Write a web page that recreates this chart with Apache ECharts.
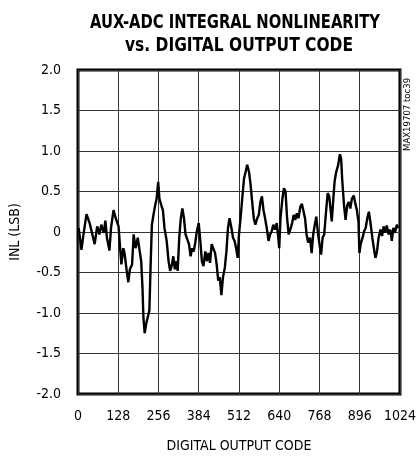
<!DOCTYPE html>
<html>
<head>
<meta charset="utf-8">
<script src="https://cdn.jsdelivr.net/npm/echarts@6/dist/echarts.min.js"></script>
<style>
html,body{margin:0;padding:0;background:#fff;}
#chart{width:419px;height:458px;}
</style>
</head>
<body>
<div id="chart"></div>
<script>
// ---- data ----
const titleLines = ["AUX-ADC INTEGRAL NONLINEARITY", "vs. DIGITAL OUTPUT CODE"];
const xAxisName = "DIGITAL OUTPUT CODE";
const yAxisName = "INL (LSB)";
const sideNote = "MAX19707 toc39";
const xTicks = [0, 128, 256, 384, 512, 640, 768, 896, 1024];
const yTicks = [-2.0, -1.5, -1.0, -0.5, 0, 0.5, 1.0, 1.5, 2.0];
const codes = [2,6,11,16,27,37,48,53,61,68,74,82,87,92,100,105,113,120,129,134,138,144,148,155,160,165,172,177,183,190,196,201,205,208,212,217,222,227,231,235,240,245,250,255,259,265,270,275,282,288,293,299,303,308,313,317,322,327,332,337,342,348,353,358,363,368,373,378,384,389,394,399,405,410,415,420,425,430,436,441,446,451,456,461,467,472,477,482,488,493,498,503,508,512,518,523,528,533,538,544,549,554,559,564,570,575,580,585,590,595,601,606,611,616,621,626,632,637,640,644,650,655,660,665,670,675,681,686,691,696,701,707,712,717,722,727,732,738,743,748,753,758,763,768,773,778,783,788,794,799,804,807,812,816,821,827,833,837,840,846,851,856,861,866,871,877,882,887,892,895,899,905,910,915,920,925,931,936,941,946,951,956,962,967,972,977,982,988,993,998,1003,1008,1014,1018];
const inl = [0.05,0.03,-0.22,-0.07,0.22,0.11,-0.07,-0.15,0.07,-0.03,0.09,-0.01,0.14,-0.07,-0.23,0.05,0.27,0.17,0.07,-0.2,-0.40,-0.2,-0.26,-0.48,-0.62,-0.46,-0.40,-0.03,-0.2,-0.07,-0.23,-0.36,-0.68,-1.05,-1.25,-1.13,-1.11,-0.97,-0.40,0.09,0.21,0.32,0.41,0.62,0.41,0.33,0.27,0.05,-0.11,-0.36,-0.48,-0.40,-0.30,-0.46,-0.36,-0.48,-0.07,0.17,0.29,0.17,-0.03,-0.01,-0.15,-0.30,-0.2,-0.24,-0.13,0.01,0.11,-0.11,-0.36,-0.42,-0.24,-0.36,-0.26,-0.38,-0.15,-0.2,-0.26,-0.40,-0.60,-0.56,-0.78,-0.56,-0.44,-0.24,0.05,0.17,0.05,-0.07,-0.11,-0.2,-0.32,-0.03,0.21,0.45,0.66,0.74,0.83,0.74,0.58,0.37,0.17,0.09,0.17,0.21,0.37,0.44,0.27,0.17,0.03,-0.11,-0.03,0.01,0.09,0.03,0.11,-0.07,-0.2,0.17,0.41,0.54,0.50,0.17,-0.03,0.03,0.11,0.21,0.15,0.23,0.17,0.31,0.35,0.33,0.17,-0.03,-0.13,-0.07,-0.26,-0.03,0.09,0.19,-0.01,-0.15,-0.28,-0.07,-0.03,0.21,0.48,0.44,0.25,0.13,0.41,0.62,0.74,0.82,0.96,0.90,0.66,0.33,0.15,0.33,0.37,0.29,0.41,0.45,0.35,0.27,0.13,-0.26,-0.15,-0.07,0.01,0.05,0.17,0.25,0.09,-0.07,-0.2,-0.32,-0.24,-0.07,0.03,-0.05,0.07,-0.01,0.08,-0.03,0.03,-0.11,0.05,-0.01,0.09,0.05];

const FONT = '"Liberation Sans Narrow", "DejaVu Sans Condensed", "Liberation Sans", sans-serif';
const TITLE_FONT = 'bold 20px "DejaVu Sans Condensed", "Liberation Sans", sans-serif';
const chart = echarts.init(document.getElementById('chart'), null, {renderer: 'canvas'});
const pts = codes.map((c, i) => [c, inl[i]]);

// fit title lines to the reference's condensed widths
const mctx = document.createElement('canvas').getContext('2d');
mctx.font = TITLE_FONT;
const titleWidths = [290, 228];
const titleCenters = [[235, 22.5], [239, 45.5]];
const titleGraphics = titleLines.map((t, i) => {
  const w = mctx.measureText(t).width || titleWidths[i];
  return {
    type: 'text', x: titleCenters[i][0], y: titleCenters[i][1],
    scaleX: titleWidths[i] / w, scaleY: 1,
    style: {text: t, font: TITLE_FONT, fill: '#000', textAlign: 'center', textVerticalAlign: 'middle'}
  };
});

chart.setOption({
  animation: false,
  backgroundColor: '#ffffff',
  graphic: titleGraphics.concat([{
    type: 'text', x: 403, y: 151, rotation: Math.PI / 2,
    style: {text: sideNote, font: '9.5px ' + FONT, fill: '#000', textAlign: 'left', textVerticalAlign: 'top'}
  }]),
  grid: {left: 75, right: 15, top: 70, bottom: 60, show: true, borderColor: '#000', borderWidth: 3, backgroundColor: 'transparent'},
  xAxis: {
    type: 'value', min: xTicks[0], max: xTicks[xTicks.length - 1], interval: 128,
    name: xAxisName, nameLocation: 'middle', nameGap: 45,
    nameTextStyle: {fontFamily: FONT, fontSize: 14, color: '#000'},
    axisLine: {show: false}, axisTick: {show: false},
    axisLabel: {fontFamily: FONT, fontSize: 14, color: '#000', margin: 15, showMaxLabel: true, showMinLabel: true,
      formatter: v => String(v)},
    splitLine: {show: true, lineStyle: {color: '#333', width: 1}}
  },
  yAxis: {
    type: 'value', min: yTicks[0], max: yTicks[yTicks.length - 1], interval: 0.5,
    name: yAxisName, nameLocation: 'middle', nameGap: 56, nameRotate: 90,
    nameTextStyle: {fontFamily: FONT, fontSize: 14, color: '#000'},
    axisLine: {show: false}, axisTick: {show: false},
    axisLabel: {fontFamily: FONT, fontSize: 14, color: '#000', margin: 17,
      formatter: v => (v === 0 ? '0' : v.toFixed(1))},
    splitLine: {show: true, lineStyle: {color: '#333', width: 1}}
  },
  series: [{
    type: 'line', data: pts, showSymbol: false, symbol: 'none',
    lineStyle: {color: '#000', width: 2.4}, z: 3
  }]
});
</script>
</body>
</html>
